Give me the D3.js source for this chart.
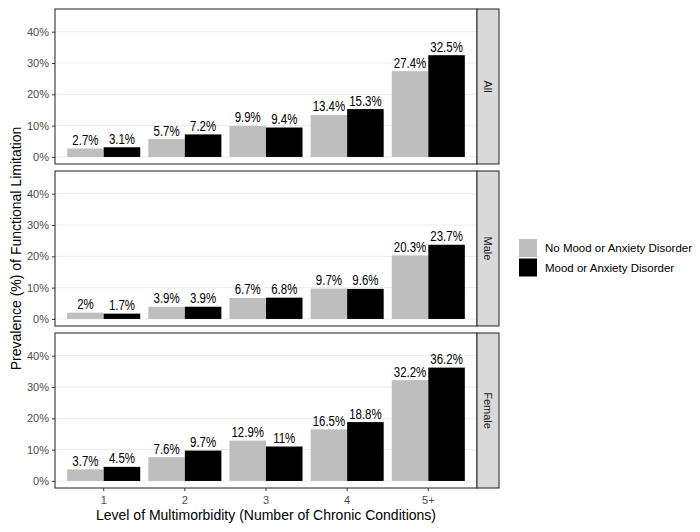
<!DOCTYPE html>
<html>
<head>
<meta charset="utf-8">
<script src="https://cdn.jsdelivr.net/npm/d3@7"></script>
<style>
  body { margin: 0; background: #fff; }
  text { font-family: "Liberation Sans", Arial, sans-serif; }
</style>
</head>
<body>
<svg id="chart"></svg>
<script>
var width = 700;
var height = 532;

// data
var levels = ['1', '2', '3', '4', '5+'];
var groups = ['No Mood or Anxiety Disorder', 'Mood or Anxiety Disorder'];
var facets = ['All', 'Male', 'Female'];
var allNo = [2.7, 5.7, 9.9, 13.4, 27.4];
var allMood = [3.1, 7.2, 9.4, 15.3, 32.5];
var maleNo = [2, 3.9, 6.7, 9.7, 20.3];
var maleMood = [1.7, 3.9, 6.8, 9.6, 23.7];
var femaleNo = [3.7, 7.6, 12.9, 16.5, 32.2];
var femaleMood = [4.5, 9.7, 11, 18.8, 36.2];
var yTicks = [0, 10, 20, 30, 40];

var colors = {'No Mood or Anxiety Disorder': '#BEBEBE', 'Mood or Anxiety Disorder': '#000000'};

var series = {
	'All': [allNo, allMood],
	'Male': [maleNo, maleMood],
	'Female': [femaleNo, femaleMood]
};

var panel = {left: 55, right: 477, top: 9, height: 155, gap: 7};
var stripW = 22;

var svg = d3.select('#chart')
	.attr('width', width)
	.attr('height', height);

// ggplot-like discrete positions: 5 cats, 0.6 expansion each side
var unit = (panel.right - panel.left) / 5.2;
var xc = function(l) { return panel.left + (levels.indexOf(l) + 0.6) * unit; };
var xDodge = d3.scaleBand()
	.domain(groups)
	.range([-0.45 * unit, 0.45 * unit]);

facets.forEach(function(f, i) {
	var top = panel.top + i * (panel.height + panel.gap);
	var y = d3.scaleLinear()
		.domain([-2.25, 47.25])
		.range([top + panel.height, top]);

	var g = svg.append('g');

	// grid
	g.selectAll('line.grid')
		.data(yTicks)
		.enter().append('line')
		.attr('x1', panel.left).attr('x2', panel.right)
		.attr('y1', function(d) { return y(d); })
		.attr('y2', function(d) { return y(d); })
		.attr('stroke', '#EBEBEB')
		.attr('stroke-width', 1);

	// bars
	var rows = [];
	groups.forEach(function(gr, j) {
		series[f][j].forEach(function(v, k) {
			rows.push({level: levels[k], group: gr, value: v});
		});
	});

	g.selectAll('rect.bar')
		.data(rows)
		.enter().append('rect')
		.attr('class', 'bar')
		.attr('x', function(d) { return xc(d.level) + xDodge(d.group); })
		.attr('y', function(d) { return y(d.value); })
		.attr('width', xDodge.bandwidth())
		.attr('height', function(d) { return y(0) - y(d.value); })
		.attr('fill', function(d) { return colors[d.group]; });

	// labels
	g.selectAll('text.lab')
		.data(rows)
		.enter().append('text')
		.attr('class', 'lab')
		.attr('transform', function(d) {
			return 'translate(' + (xc(d.level) + xDodge(d.group) + xDodge.bandwidth() / 2) + ',' + (y(d.value) - 3.5) + ') scale(0.82,1)';
		})
		.attr('text-anchor', 'middle')
		.attr('font-size', 14)
		.attr('fill', '#000')
		.text(function(d) { return d.value + '%'; });

	// y axis
	var yAxis = d3.axisLeft(y)
		.tickValues(yTicks)
		.tickSize(3)
		.tickPadding(3)
		.tickFormat(function(d) { return d + '%'; });
	var ga = g.append('g')
		.attr('transform', 'translate(' + panel.left + ',0)')
		.call(yAxis);
	ga.select('.domain').remove();
	ga.selectAll('line').attr('stroke', '#333333');
	ga.selectAll('text').attr('fill', '#4D4D4D').attr('font-size', 11)
		.style('font-family', '"Liberation Sans", Arial, sans-serif');

	// border
	g.append('rect')
		.attr('x', panel.left).attr('y', top)
		.attr('width', panel.right - panel.left).attr('height', panel.height)
		.attr('fill', 'none').attr('stroke', '#333333').attr('stroke-width', 1.1);

	// strip
	g.append('rect')
		.attr('x', panel.right).attr('y', top)
		.attr('width', stripW).attr('height', panel.height)
		.attr('fill', '#D9D9D9').attr('stroke', '#333333').attr('stroke-width', 1.1);
	g.append('text')
		.attr('transform', 'translate(' + (panel.right + stripW / 2) + ',' + (top + panel.height / 2) + ') rotate(90)')
		.attr('text-anchor', 'middle')
		.attr('dy', '0.35em')
		.attr('font-size', 11)
		.attr('fill', '#1A1A1A')
		.text(f);

	// x axis on bottom panel
	if (i === facets.length - 1) {
		var bottom = top + panel.height;
		var xt = g.append('g');
		xt.selectAll('line')
			.data(levels)
			.enter().append('line')
			.attr('x1', function(d) { return xc(d); }).attr('x2', function(d) { return xc(d); })
			.attr('y1', bottom).attr('y2', bottom + 3)
			.attr('stroke', '#333333');
		xt.selectAll('text')
			.data(levels)
			.enter().append('text')
			.attr('x', function(d) { return xc(d); })
			.attr('y', bottom + 16)
			.attr('text-anchor', 'middle')
			.attr('font-size', 11)
			.attr('fill', '#4D4D4D')
			.text(function(d) { return d; });
	}
});

// axis titles
var plotTop = panel.top;
var plotBottom = panel.top + 3 * panel.height + 2 * panel.gap;
svg.append('text')
	.attr('transform', 'translate(21,' + ((plotTop + plotBottom) / 2) + ') rotate(-90)')
	.attr('text-anchor', 'middle')
	.attr('font-size', 14)
	.attr('fill', '#000')
	.text('Prevalence (%) of Functional Limitation');

svg.append('text')
	.attr('x', (panel.left + panel.right) / 2)
	.attr('y', 520)
	.attr('text-anchor', 'middle')
	.attr('font-size', 14)
	.attr('fill', '#000')
	.text('Level of Multimorbidity (Number of Chronic Conditions)');

// legend
var legend = svg.append('g')
	.attr('transform', 'translate(519,239)');
legend.selectAll('rect')
	.data(groups)
	.enter().append('rect')
	.attr('x', 0)
	.attr('y', function(d, i) { return i * 19.5; })
	.attr('width', 18)
	.attr('height', 18)
	.attr('fill', function(d) { return colors[d]; });
legend.selectAll('text')
	.data(groups)
	.enter().append('text')
	.attr('x', 26)
	.attr('y', function(d, i) { return i * 19.5 + 9; })
	.attr('dy', '0.35em')
	.attr('font-size', 11.5)
	.attr('fill', '#000')
	.text(function(d) { return d; });
</script>
</body>
</html>
